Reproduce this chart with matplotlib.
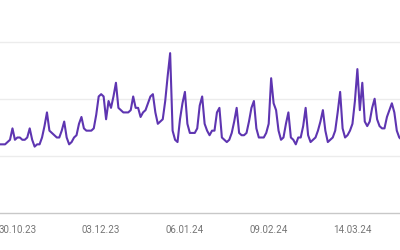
import matplotlib.pyplot as plt
import matplotlib.dates as mdates
import pandas as pd

# daily interest values, 23.10.23 - 02.04.24
values = [
    30, 30, 30, 31, 32, 37, 32,
    33, 33, 32, 32, 33, 37, 32, 29, 30, 30,
    33, 38, 44, 36, 35, 34, 33, 33, 36, 40,
    33, 30, 31, 33, 34, 39, 42, 37, 36, 36,
    36, 37, 43, 51, 52, 51, 41, 49, 46, 51,
    57, 46, 45, 44, 44, 44, 45, 51, 46, 46,
    42, 44, 45, 48, 51, 52, 44, 39, 40, 41,
    49, 60, 70, 36, 32, 31, 41, 48, 53, 39,
    35, 35, 35, 37, 47, 51, 39, 36, 34, 36,
    36, 44, 46, 33, 32, 31, 32, 35, 40, 46,
    35, 34, 34, 35, 40, 46, 49, 37, 33, 33,
    33, 35, 39, 59, 48, 45, 36, 32, 33, 39,
    44, 33, 32, 30, 33, 33, 38, 46, 34, 31,
    32, 33, 36, 40, 45, 36, 31, 32, 33, 36,
    44, 53, 37, 33, 34, 36, 39, 49, 63, 45,
    57, 40, 38, 40, 46, 50, 41, 38, 37, 37,
    42, 45, 48, 44, 36, 33, 32,
]
dates = pd.date_range("2023-10-23", periods=len(values), freq="D")

tick_dates = pd.to_datetime(["2023-10-30", "2023-12-03", "2024-01-06",
                             "2024-02-09", "2024-03-14"])
tick_labels = [d.strftime("%d.%m.%y") for d in tick_dates]
grid_values = [25, 50, 75]

plt.rcParams['font.family'] = ['Roboto', 'DejaVu Sans']

fig = plt.figure(figsize=(4, 2.5), dpi=100)
ax = fig.add_axes([0, 0.149, 1, 0.851])

for g in grid_values:
    ax.axhline(g, color="#ececec", linewidth=1, zorder=1)

ax.plot(dates, values, color="#5e35b1", linewidth=1.5, zorder=3,
        solid_joinstyle="round")

x0 = mdates.date2num(pd.Timestamp("2023-10-30"))
ax.set_xlim(x0 - 7.06, x0 + 155.3)
ax.set_ylim(0, 93.3)

ax.set_xticks(tick_dates)
ax.set_xticklabels(tick_labels)
ax.set_yticks([])
ax.tick_params(axis="x", length=0, pad=9, labelsize=7, colors="#757575")

for side in ["top", "left", "right"]:
    ax.spines[side].set_visible(False)
ax.spines["bottom"].set_color("#c8c8c8")
ax.spines["bottom"].set_linewidth(1)

fig.savefig("out.png", dpi=100)
